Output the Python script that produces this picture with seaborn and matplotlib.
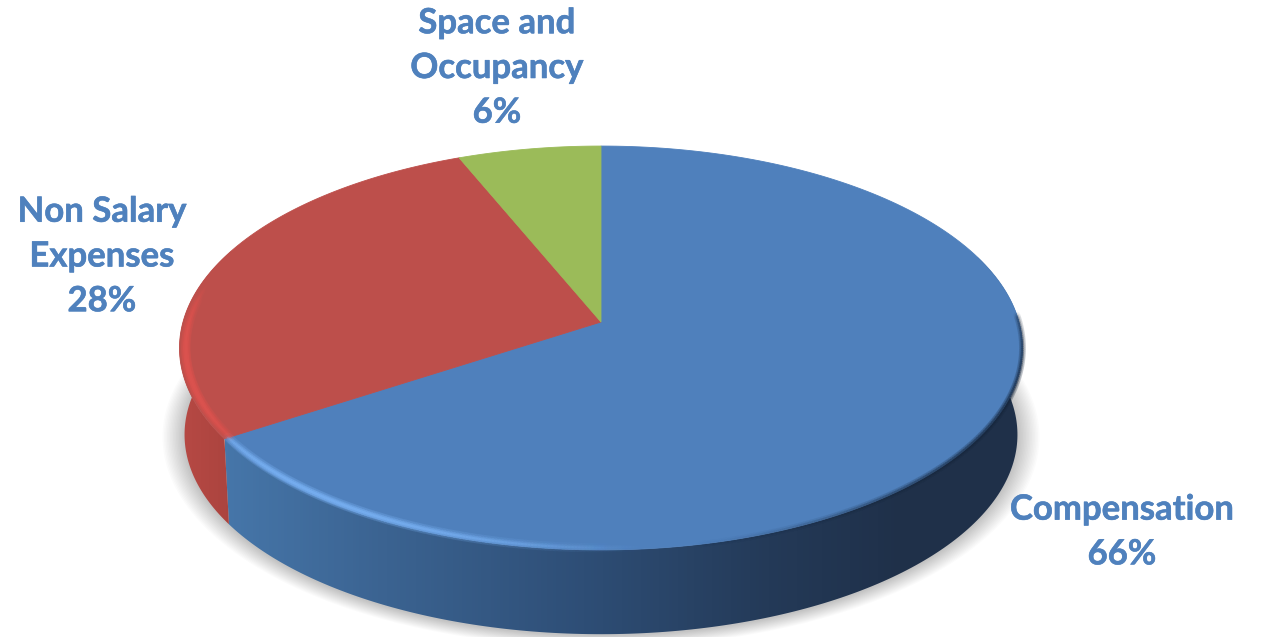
import numpy as np
import matplotlib
matplotlib.use('Agg')
import matplotlib.pyplot as plt
import matplotlib.patheffects as pe
import seaborn as sns
from matplotlib.collections import LineCollection
from matplotlib.colors import LinearSegmentedColormap, to_rgba
from matplotlib.patches import Polygon

categories = ['Compensation', 'Non Salary\nExpenses', 'Space and\nOccupancy']
# slice sizes, the labels show them rounded
shares = [65.8, 28.0, 6.2]
top_colors = ['#4f80bc', '#bd4f4b', '#9bbb59']

sns.set_theme(style='white')
plt.rcParams['font.family'] = ['Lato', 'DejaVu Sans']

W, H = 1263, 637
fig = plt.figure(figsize=(W / 100, H / 100), dpi=100)
ax = fig.add_axes([0, 0, 1, 1])

# pie geometry in pixels, slight perspective so the apex sits above the ellipse centre
CX, CY = 601, 322
RX, RY, PERSP = 418, 198.6, 0.1287
DEPTH = 87


def rim(theta, scale=1.0, dy=0.0):
    # theta in degrees, clockwise from twelve o'clock
    t = np.radians(theta)
    d = 1 + PERSP * np.cos(t)
    return CX + scale * RX * np.sin(t) / d, CY + dy - scale * RY * np.cos(t) / d


def side_poly(a, b, n=200):
    t = np.linspace(a, b, n)
    x1, y1 = rim(t)
    x2, y2 = rim(t[::-1], 0.988, DEPTH)
    return np.column_stack([np.r_[x1, x2], np.r_[y1, y2]])


edges = np.cumsum([0] + shares) * 3.6

# soft shadow below the disc
t = np.linspace(0, 360, 300)
for grow in np.arange(22, 0, -1.5):
    sx, sy = rim(t, 0.988 + grow / 420, DEPTH + 1)
    ax.fill(sx, sy, color='black', alpha=0.014, lw=0)

# side wall, horizontal gradient from the lit left to the dark right
blue_side = LinearSegmentedColormap.from_list('blue_side', [
    (0.0, '#4676a9'), (0.2, '#3b6391'), (0.45, '#2e4e76'),
    (0.68, '#243a58'), (0.85, '#1f3049'), (1.0, '#1f3049')])
red_side = LinearSegmentedColormap.from_list('red_side', ['#b84a45', '#aa433e'])

for (a, b, cmap, x0, x1) in [(70, edges[1], blue_side, 225, 1025),
                             (edges[1], 292, red_side, 175, 235)]:
    grad = np.linspace(0, 1, 256).reshape(1, -1)
    im = ax.imshow(grad, cmap=cmap, extent=[x0, x1, H, 0], aspect='auto', zorder=2)
    clip = Polygon(side_poly(a, b), transform=ax.transData, fc='none', ec='none')
    ax.add_patch(clip)
    im.set_clip_path(clip)

# top face
for i, color in enumerate(top_colors):
    t = np.linspace(edges[i], edges[i + 1], 200)
    x, y = rim(t)
    ax.fill(np.r_[CX, x], np.r_[CY, y], color=color, lw=0.6, ec=color, zorder=3)


def glow(a, b, color, peak, scale, width, crest=0.7):
    # a rim line that swells to its full opacity at crest and fades out at both ends
    t = np.linspace(a, b, 160)
    x, y = rim(t, scale)
    pts = np.column_stack([x, y])
    segs = np.stack([pts[:-1], pts[1:]], axis=1)
    rgba = np.tile(to_rgba(color), (len(segs), 1))
    pos = np.linspace(0, 1, len(segs))
    bump = np.where(pos < crest, pos / crest, (1 - pos) / (1 - crest) * 0.6 + 0.4)
    rgba[:, 3] = peak * np.sin(bump * np.pi / 2) ** 1.5
    ax.add_collection(LineCollection(segs, colors=rgba, linewidths=width, zorder=4,
                                     capstyle='round'))


# bevel on the front rim
for width, peak in [(7, 0.14), (4, 0.3), (1.8, 0.5)]:
    glow(172, edges[1], '#78b0f2', peak, 0.99, width)
    glow(284, edges[1], '#dc5450', peak, 0.985, width, crest=0.6)

# dark soft edge where the top meets the shadowed wall
for width, peak in [(5, 0.12), (2.5, 0.25)]:
    glow(170, 88, '#16263c', peak, 1.0, width, crest=0.6)

# labels
text_color = '#4f81bd'
for cat, share, (lx, ly) in zip(categories, shares,
                                [(1122, 532), (102, 256.5), (497, 68)]):
    label = ax.text(lx, ly, f'{cat}\n{share:.0f}%', ha='center', va='center', color=text_color,
                    fontsize=25, fontweight='bold', linespacing=1.49, zorder=5)
    label.set_path_effects([pe.withStroke(linewidth=0.4, foreground=text_color)])

ax.set_xlim(0, W)
ax.set_ylim(H, 0)
ax.axis('off')
fig.savefig('out.png', dpi=100, facecolor='white')
